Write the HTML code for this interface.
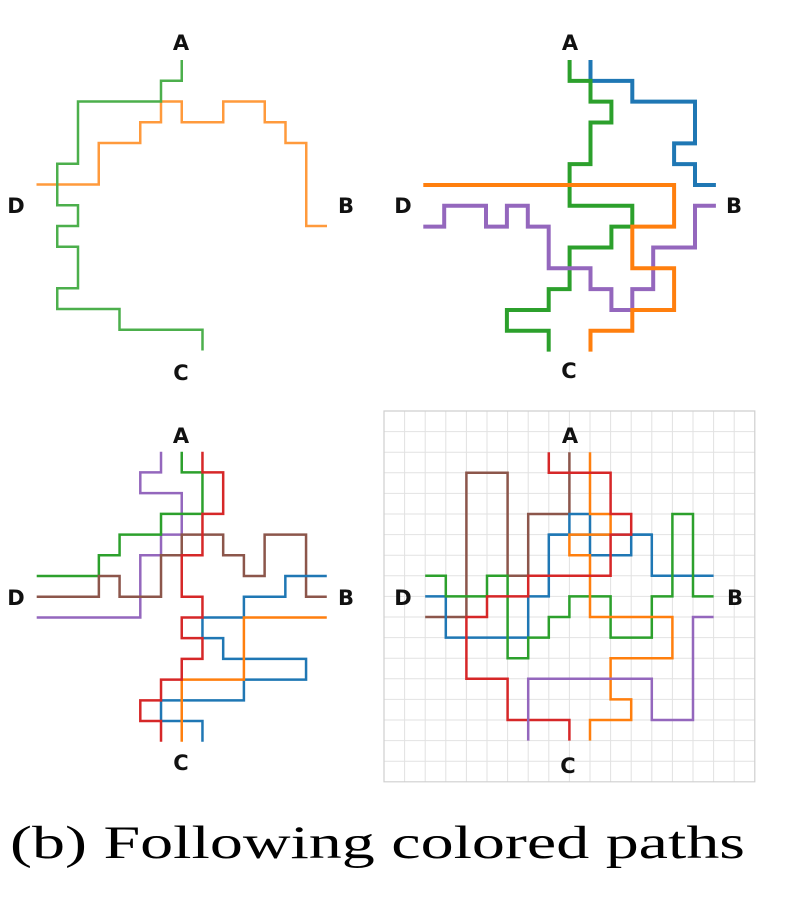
<!DOCTYPE html>
<html><head><meta charset="utf-8"><style>
html,body{margin:0;padding:0;background:#fff;width:790px;height:897px;overflow:hidden}
svg{display:block}
.l{font-family:"DejaVu Sans","Liberation Sans",sans-serif;font-weight:bold;font-size:21px;fill:#111;text-anchor:middle}
polyline{fill:none;stroke-linejoin:miter;stroke-linecap:butt}
</style></head><body>
<svg width="790" height="897" viewBox="0 0 790 897" xmlns="http://www.w3.org/2000/svg">
<!-- Panel 1 -->
<g transform="translate(36.5,60) scale(20.75)">
<polyline vector-effect="non-scaling-stroke" stroke="#ff9a3c" stroke-width="2.5" points="0,6 3,6 3,4 5,4 5,3 6,3 6,2 7,2 7,3 9,3 9,2 11,2 11,3 12,3 12,4 13,4 13,8 14,8"/>
<polyline vector-effect="non-scaling-stroke" stroke="#4caf4c" stroke-width="2.5" points="7,0 7,1 6,1 6,2 2,2 2,5 1,5 1,7 2,7 2,8 1,8 1,9 2,9 2,11 1,11 1,12 4,12 4,13 8,13 8,14"/>
</g>
<text class="l" x="181" y="50">A</text><text class="l" x="16" y="213">D</text><text class="l" x="346" y="213">B</text><text class="l" x="181" y="380">C</text>

<!-- Panel 2 -->
<g transform="translate(423.3,60) scale(20.9,20.83)">
<polyline vector-effect="non-scaling-stroke" stroke="#1f77b4" stroke-width="4" points="8,0 8,1 10,1 10,2 13,2 13,4 12,4 12,5 13,5 13,6 14,6"/>
<polyline vector-effect="non-scaling-stroke" stroke="#2ca02c" stroke-width="4" points="7,0 7,1 8,1 8,2 9,2 9,3 8,3 8,5 7,5 7,7 10,7 10,8 9,8 9,9 7,9 7,11 6,11 6,12 4,12 4,13 6,13 6,14"/>
<polyline vector-effect="non-scaling-stroke" stroke="#9467bd" stroke-width="4" points="0,8 1,8 1,7 3,7 3,8 4,8 4,7 5,7 5,8 6,8 6,10 8,10 8,11 9,11 9,12 10,12 10,11 11,11 11,9 13,9 13,7 14,7"/>
<polyline vector-effect="non-scaling-stroke" stroke="#ff7f0e" stroke-width="4" points="0,6 12,6 12,8 10,8 10,10 12,10 12,12 10,12 10,13 8,13 8,14"/>
</g>
<text class="l" x="570" y="50">A</text><text class="l" x="403" y="213">D</text><text class="l" x="734" y="213">B</text><text class="l" x="569" y="378">C</text>

<!-- Panel 3 -->
<g transform="translate(36.7,451.7) scale(20.72)">
<polyline vector-effect="non-scaling-stroke" stroke="#9467bd" stroke-width="2.5" points="6,0 6,1 5,1 5,2 7,2 7,4 6,4 6,5 5,5 5,8 0,8"/>
<polyline vector-effect="non-scaling-stroke" stroke="#2ca02c" stroke-width="2.5" points="7,0 7,1 8,1 8,3 6,3 6,4 4,4 4,5 3,5 3,6 0,6"/>
<polyline vector-effect="non-scaling-stroke" stroke="#8c564b" stroke-width="2.5" points="0,7 3,7 3,6 4,6 4,7 6,7 6,5 7,5 7,4 9,4 9,5 10,5 10,6 11,6 11,4 13,4 13,7 14,7"/>
<polyline vector-effect="non-scaling-stroke" stroke="#1f77b4" stroke-width="2.5" points="14,6 12,6 12,7 10,7 10,8 8,8 8,9 9,9 9,10 13,10 13,11 10,11 10,12 6,12 6,13 8,13 8,14"/>
<polyline vector-effect="non-scaling-stroke" stroke="#ff7f0e" stroke-width="2.5" points="14,8 10,8 10,11 7,11 7,14"/>
<polyline vector-effect="non-scaling-stroke" stroke="#d62728" stroke-width="2.5" points="8,0 8,1 9,1 9,3 8,3 8,5 7,5 7,7 8,7 8,8 7,8 7,9 8,9 8,10 7,10 7,11 6,11 6,12 5,12 5,13 6,13 6,14"/>
</g>
<text class="l" x="181" y="443">A</text><text class="l" x="16" y="605">D</text><text class="l" x="346" y="605">B</text><text class="l" x="181" y="770">C</text>

<!-- Panel 4 -->
<g transform="translate(384,411) scale(20.6)">
<g stroke="#e2e2e2" stroke-width="1" vector-effect="non-scaling-stroke">
<path vector-effect="non-scaling-stroke" d="M1,0V18M2,0V18M3,0V18M4,0V18M5,0V18M6,0V18M7,0V18M8,0V18M9,0V18M10,0V18M11,0V18M12,0V18M13,0V18M14,0V18M15,0V18M16,0V18M17,0V18M0,1H18M0,2H18M0,3H18M0,4H18M0,5H18M0,6H18M0,7H18M0,8H18M0,9H18M0,10H18M0,11H18M0,12H18M0,13H18M0,14H18M0,15H18M0,16H18M0,17H18"/>
</g>
<rect x="0" y="0" width="18" height="18" fill="none" stroke="#cfcfcf" stroke-width="1.2" vector-effect="non-scaling-stroke"/>
<polyline vector-effect="non-scaling-stroke" stroke="#8c564b" stroke-width="2.5" points="9,2 9,5 7,5 7,8 6,8 6,3 4,3 4,10 2,10"/>
<polyline vector-effect="non-scaling-stroke" stroke="#1f77b4" stroke-width="2.5" points="2,9 3,9 3,11 7,11 7,9 8,9 8,6 9,6 9,5 10,5 10,7 12,7 12,6 13,6 13,8 16,8"/>
<polyline vector-effect="non-scaling-stroke" stroke="#1f77b4" stroke-width="2.5" points="8,6 13,6"/>
<polyline vector-effect="non-scaling-stroke" stroke="#2ca02c" stroke-width="2.5" points="2,8 3,8 3,9 5,9 5,8 6,8 6,12 7,12 7,11 8,11 8,10 9,10 9,9 11,9 11,11 13,11 13,9 14,9 14,5 15,5 15,9 16,9"/>
<polyline vector-effect="non-scaling-stroke" stroke="#ff7f0e" stroke-width="2.5" points="10,2 10,5 11,5 11,6 9,6 9,7 10,7 10,10 14,10 14,12 11,12 11,14 12,14 12,15 10,15 10,16"/>
<polyline vector-effect="non-scaling-stroke" stroke="#d62728" stroke-width="2.5" points="8,2 8,3 11,3 11,5 12,5 12,6 11,6 11,8 7,8 7,9 5,9 5,10 4,10 4,13 6,13 6,15 9,15 9,16"/>
<polyline vector-effect="non-scaling-stroke" stroke="#9467bd" stroke-width="2.5" points="7,16 7,13 13,13 13,15 15,15 15,10 16,10"/>
</g>
<text class="l" x="570" y="443">A</text><text class="l" x="403" y="605">D</text><text class="l" x="735" y="605">B</text><text class="l" x="568" y="773">C</text>

<text x="10" y="858" font-family="'Liberation Serif',serif" font-size="47" fill="#000" textLength="735" lengthAdjust="spacingAndGlyphs">(b) Following colored paths</text>
</svg>
</body></html>
